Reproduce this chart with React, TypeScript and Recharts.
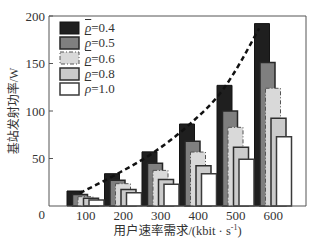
import { Bar, ComposedChart, Label, Legend, Line, XAxis, YAxis } from 'recharts';

// 用户速率需求 (kbit/s) and 基站发射功率 (W)
const rates = ['100', '200', '300', '400', '500', '600'];
const rho04 = [15.8, 34, 57, 86.3, 127, 192];
const rho05 = [12, 27.2, 45, 68.2, 100, 151];
const rho06 = [9.8, 23.5, 37.5, 56.8, 82.8, 123.9];
const rho08 = [8.2, 17.5, 28, 42.3, 61.8, 92.3];
const rho10 = [6.3, 14, 22.8, 34, 49.1, 73];
const trend = [13.7, 33, 55, 84, 123, 187];
const yTicks = [0, 50, 100, 150, 200];

const data = rates.map((rate, i) => ({
  rate,
  r04: rho04[i],
  r05: rho05[i],
  r06: rho06[i],
  r08: rho08[i],
  r10: rho10[i],
  trend: trend[i],
}));

const series = [
  { key: 'r04', label: '0.4', fill: '#1f1f1f', stroke: '#141414', width: 1, dash: undefined },
  { key: 'r05', label: '0.5', fill: '#7f7f7f', stroke: '#262626', width: 1.5, dash: undefined },
  { key: 'r06', label: '0.6', fill: '#d9d9d9', stroke: '#555', width: 1, dash: '4 2 1 2' },
  { key: 'r08', label: '0.8', fill: '#cbcbcb', stroke: '#2e2e2e', width: 1.5, dash: undefined },
  { key: 'r10', label: '1.0', fill: '#ffffff', stroke: '#3a3a3a', width: 1.5, dash: undefined },
];

const serif = "'Liberation Serif', 'DejaVu Serif', serif";
const cjk = "'Liberation Serif', 'Noto Sans CJK SC', serif";
const ink = '#333';
const frame = '#555';

function YTick({ x, y, payload }: any) {
  const v = payload.value;
  return (
    <g>
      {v !== 0 && <line x1={x + 4} x2={x + 8} y1={y} y2={y} stroke={frame} />}
      <text
        x={x}
        y={v === 0 ? y + 8 : y}
        textAnchor="end"
        dominantBaseline="central"
        fontSize={13}
        fontFamily={serif}
        fill={ink}
      >
        {v}
      </text>
    </g>
  );
}

function XTitle({ viewBox }: any) {
  const { x, y, width, height } = viewBox;
  return (
    <text x={x + width / 2} y={y + height - 8} textAnchor="middle" fontSize={12.5} fontFamily={cjk} fill={ink}>
      用户速率需求/(kbit · s<tspan dy={-5} fontSize={8}>-1</tspan>
      <tspan dy={5}>)</tspan>
    </text>
  );
}

function YTitle({ viewBox }: any) {
  const cx = 14;
  const cy = viewBox.y + viewBox.height / 2;
  return (
    <text
      x={cx}
      y={cy}
      transform={`rotate(-90, ${cx}, ${cy})`}
      textAnchor="middle"
      dominantBaseline="central"
      fontSize={12}
      fontFamily={cjk}
      fill={ink}
    >
      基站发射功率/W
    </text>
  );
}

function LegendBox() {
  return (
    <div style={{ fontFamily: serif, fontSize: 13, color: ink, lineHeight: 1 }}>
      {series.map((s) => (
        <div key={s.key} style={{ display: 'flex', alignItems: 'center', height: 15.3 }}>
          <svg width={21} height={14}>
            <rect
              x={1}
              y={1}
              width={19}
              height={12}
              fill={s.fill}
              stroke={s.stroke}
              strokeWidth={s.width}
              strokeDasharray={s.dash}
            />
          </svg>
          <span style={{ marginLeft: 5 }}>
            <span style={{ fontStyle: 'italic', textDecoration: 'overline' }}>ρ</span>={s.label}
          </span>
        </div>
      ))}
    </div>
  );
}

export default function App() {
  return (
    <div style={{ position: 'absolute', left: 0, top: 0, background: '#fff' }}>
      <ComposedChart
        width={322}
        height={243}
        data={data}
        barGap={-9.5}
        barCategoryGap={0}
        margin={{ top: 15, right: 15, bottom: 0, left: 0 }}
      >
        <XAxis
          dataKey="rate"
          height={37}
          padding={{ left: 18, right: 14 }}
          tickLine={false}
          tickSize={0}
          tickMargin={5}
          axisLine={{ stroke: frame }}
          tick={{ fontSize: 13, fill: ink, fontFamily: serif }}
        >
          <Label content={XTitle} />
        </XAxis>
        <XAxis xAxisId="line" dataKey="rate" hide padding={{ left: 13, right: 29 }} />
        <XAxis
          xAxisId="top"
          dataKey="rate"
          orientation="top"
          height={1}
          tick={false}
          tickLine={false}
          axisLine={{ stroke: frame }}
        />
        <YAxis
          width={49}
          domain={[0, 200]}
          ticks={yTicks}
          tickLine={false}
          tickSize={0}
          tickMargin={4}
          axisLine={{ stroke: frame }}
          tick={<YTick />}
        >
          <Label content={YTitle} />
        </YAxis>
        <YAxis
          yAxisId="right"
          orientation="right"
          width={1}
          domain={[0, 200]}
          tick={false}
          tickLine={false}
          axisLine={{ stroke: frame }}
        />
        <Legend
          content={LegendBox}
          layout="horizontal"
          align="center"
          verticalAlign="middle"
          wrapperStyle={{ left: 59, top: 20, width: 'auto' }}
        />
        {series.map((s) => (
          <Bar
            key={s.key}
            dataKey={s.key}
            name={s.label}
            barSize={15}
            fill={s.fill}
            stroke={s.stroke}
            strokeWidth={s.width}
            strokeDasharray={s.dash}
            isAnimationActive={false}
          />
        ))}
        <Line
          xAxisId="line"
          dataKey="trend"
          type="monotone"
          stroke="#111"
          strokeWidth={2.5}
          strokeDasharray="5 3.5"
          dot={false}
          legendType="none"
          isAnimationActive={false}
        />
      </ComposedChart>
    </div>
  );
}
